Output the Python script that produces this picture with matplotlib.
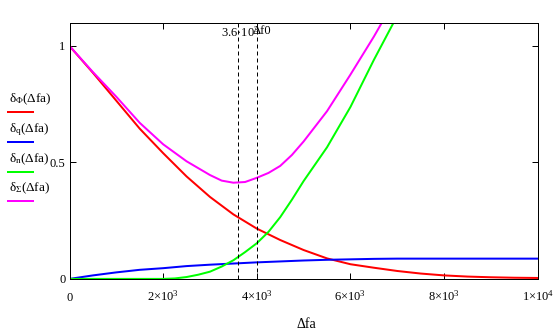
import matplotlib
matplotlib.use("Agg")
import matplotlib.pyplot as plt

plt.rcParams["font.family"] = ["Liberation Serif", "DejaVu Serif"]
plt.rcParams["mathtext.fontset"] = "custom"
plt.rcParams["mathtext.rm"] = "Liberation Serif"
plt.rcParams["mathtext.it"] = "Liberation Serif"
plt.rcParams["mathtext.bf"] = "Liberation Serif:bold"

# frequency offset grid (Hz) for the slowly varying components
dfa = [0, 500, 1000, 1500, 2000, 2500, 3000, 3500, 4000, 4500, 5000,
       5500, 6000, 6500, 7000, 7500, 8000, 8500, 9000, 9500, 10000]
d_phi = [1.0, 0.885, 0.765, 0.645, 0.540, 0.440, 0.352, 0.277, 0.216, 0.167, 0.124,
         0.088, 0.063, 0.048, 0.034, 0.023, 0.015, 0.010, 0.007, 0.005, 0.004]
d_q = [0.0, 0.015, 0.028, 0.039, 0.046, 0.055, 0.061, 0.066, 0.071, 0.075, 0.079,
       0.082, 0.084, 0.086, 0.087, 0.087, 0.087, 0.087, 0.087, 0.087, 0.087]

# finer grid for the steeper components
dfa_n = [0, 2000, 2250, 2500, 2750, 3000, 3250, 3500, 3750, 4000, 4250, 4500,
         4750, 5000, 5500, 6000, 6500, 7000]
d_n = [0.0, 0.0, 0.002, 0.008, 0.018, 0.031, 0.053, 0.080, 0.115, 0.153, 0.202, 0.265,
       0.340, 0.420, 0.565, 0.738, 0.940, 1.130]
dfa_sum = [0, 500, 1000, 1500, 2000, 2500, 3000, 3250, 3500, 3750, 4000, 4250, 4500,
           4750, 5000, 5500, 6000, 6500, 7000]
d_sum = [1.0, 0.888, 0.782, 0.670, 0.578, 0.505, 0.446, 0.422, 0.413, 0.416, 0.434,
         0.455, 0.485, 0.532, 0.590, 0.720, 0.877, 1.040, 1.215]

series_labels = ["δ$_{Φ}$(Δfa)", "δ$_{q}$(Δfa)", "δ$_{n}$(Δfa)", "δ$_{Σ}$(Δfa)"]
series_colors = ["#ff0000", "#0000ff", "#00ff00", "#ff00ff"]

x_ticks = [0, 2000, 4000, 6000, 8000, 10000]
x_tick_labels = ["0", "2×10$^{3}$", "4×10$^{3}$", "6×10$^{3}$", "8×10$^{3}$", "1×10$^{4}$"]
y_ticks = [0, 0.5, 1]
y_tick_labels = ["0", "0.5", "1"]

markers = [3600, 4000]
marker_labels = ["3.6·10$^{3}$", "Δf0"]

W, H = 556, 332
fig = plt.figure(figsize=(W / 100, H / 100), dpi=100)
fig.patch.set_facecolor("white")

L, R, T, B = 69.5, 537.7, 22.7, 278.9
ax = fig.add_axes([L / W, 1 - B / H, (R - L) / W, (B - T) / H])

lw = 1.44
ax.plot(dfa, d_phi, color=series_colors[0], lw=lw)
ax.plot(dfa, d_q, color=series_colors[1], lw=lw)
ax.plot(dfa_n, d_n, color=series_colors[2], lw=lw)
ax.plot(dfa_sum, d_sum, color=series_colors[3], lw=lw)

for m in markers:
    ax.axvline(m, color="black", lw=0.72, linestyle=(0, (4, 3)))

ax.set_xlim(0, 10000)
ax.set_ylim(0, 1.1)

for sp in ax.spines.values():
    sp.set_linewidth(0.72)
    sp.set_color("black")

ax.set_xticks(x_ticks, x_tick_labels)
ax.set_yticks(y_ticks, y_tick_labels)
ax.tick_params(direction="in", top=True, right=True, length=4, width=0.72,
               labelsize=9, colors="black")
ax.tick_params(axis="x", pad=15.7)
ax.tick_params(axis="y", pad=3.0)
for lbl in ax.get_xticklabels():
    lbl.set_va("baseline")

# marker captions along the top edge
ax.text(3239, 1.0386, marker_labels[0], fontsize=9, ha="left", va="baseline")
ax.text(3902, 1.050, marker_labels[1], fontsize=9, ha="left", va="baseline")

# axis caption
fig.text(306 / W, 1 - 325 / H, "Δfa", fontsize=10, ha="center", va="center")

# trace key on the left
line_ys = [111.7, 141.7, 171.7, 201.0]
for lab, col, ly in zip(series_labels, series_colors, line_ys):
    fig.text(9 / W, 1 - (ly - 9.5) / H, lab, fontsize=9.5, ha="left", va="baseline")
    fig.add_artist(plt.Line2D([8 / W, 33 / W], [1 - ly / H, 1 - ly / H],
                              color=col, lw=1.44, transform=fig.transFigure))

fig.savefig("out.png", dpi=100)
